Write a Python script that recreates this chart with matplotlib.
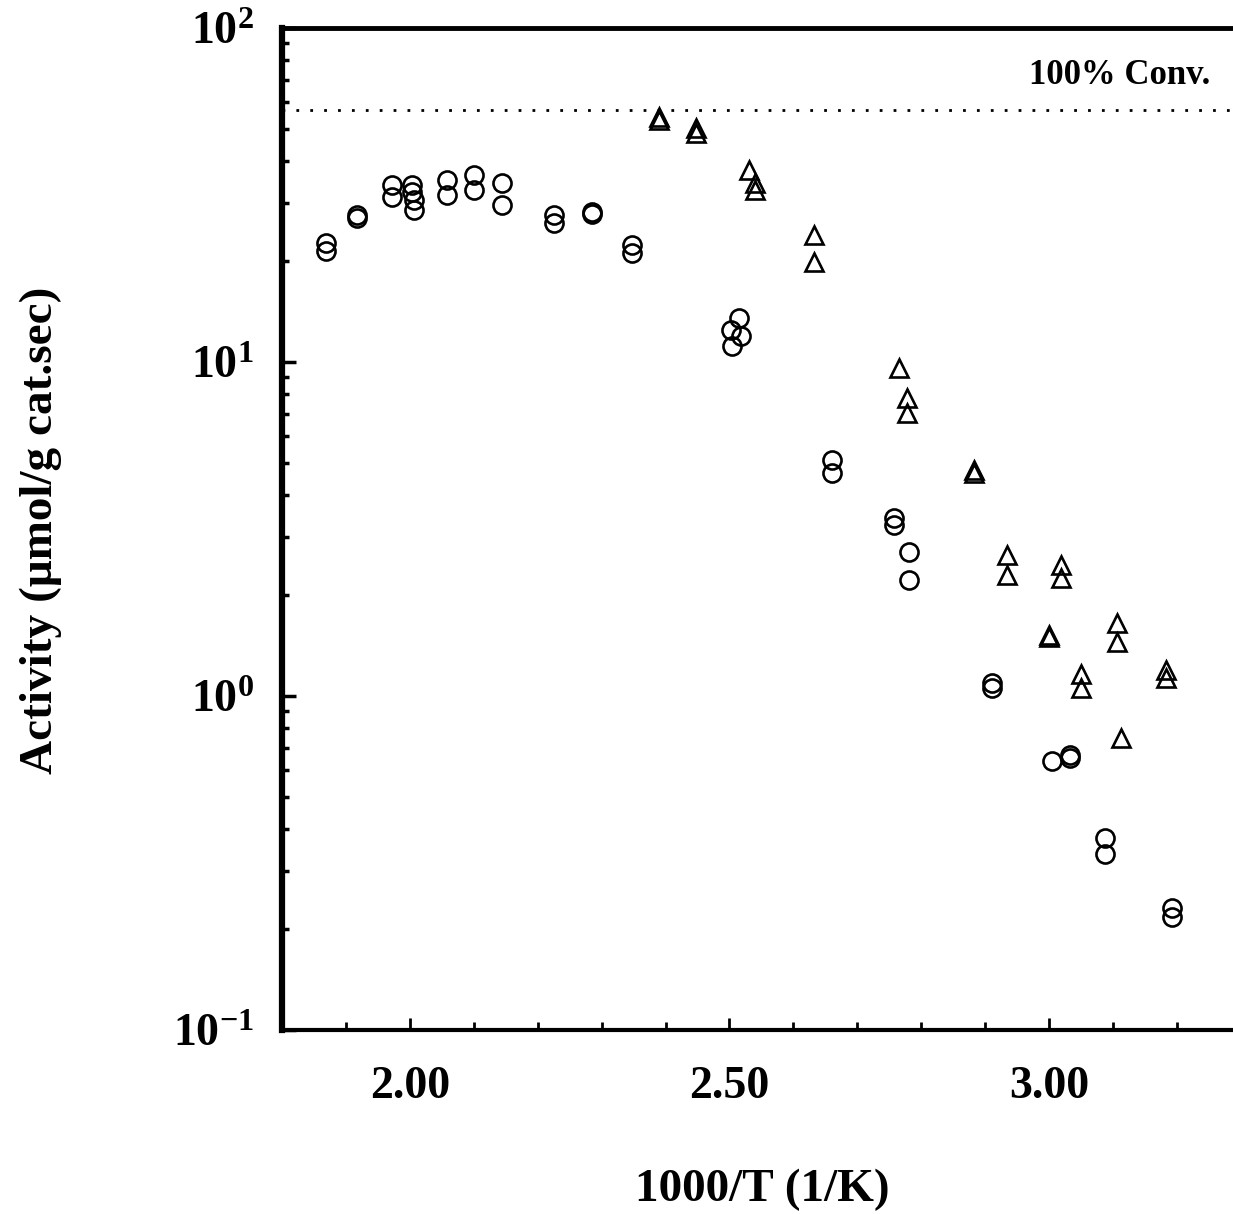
import matplotlib.pyplot as plt
import numpy as np

# circles
circ_x = [1.869, 1.869, 1.917, 1.917, 1.972, 1.972, 2.003, 2.003, 2.006, 2.006,
          2.058, 2.058, 2.100, 2.100, 2.144, 2.144, 2.225, 2.225, 2.285, 2.285,
          2.347, 2.347, 2.515, 2.502, 2.518, 2.504, 2.660, 2.660, 2.757, 2.757,
          2.781, 2.781, 2.911, 2.911, 3.005, 3.033, 3.033, 3.088, 3.088, 3.192, 3.192]
circ_y = [22.7, 21.5, 27.0, 27.5, 33.9, 31.2, 33.9, 32.3, 30.5, 28.5,
          35.1, 31.6, 36.3, 32.7, 34.4, 29.5, 27.5, 26.1, 28.1, 27.7,
          22.4, 21.2, 13.5, 12.5, 12.0, 11.2, 5.09, 4.65, 3.41, 3.25,
          2.70, 2.22, 1.09, 1.06, 0.638, 0.665, 0.650, 0.376, 0.336, 0.232, 0.218]

# triangles
tri_x = [2.390, 2.390, 2.448, 2.448, 2.531, 2.540, 2.540, 2.632, 2.632,
         2.765, 2.778, 2.778, 2.883, 2.883, 2.934, 2.934, 3.019, 3.019,
         3.000, 3.000, 3.106, 3.106, 3.050, 3.050, 3.183, 3.183, 3.113]
tri_y = [54.2, 53.0, 50.2, 48.5, 37.6, 34.4, 32.7, 24.0, 19.9,
         9.6, 7.8, 7.04, 4.75, 4.65, 2.64, 2.30, 2.47, 2.25,
         1.52, 1.50, 1.65, 1.45, 1.16, 1.06, 1.20, 1.13, 0.748]

conv_level = 57.0
xticks = [2.00, 2.50, 3.00]
xticklabels = ['2.00', '2.50', '3.00']
yticks = [0.1, 1, 10, 100]
yticklabels = [r'$\mathbf{10^{-1}}$', r'$\mathbf{10^{0}}$', r'$\mathbf{10^{1}}$', r'$\mathbf{10^{2}}$']

plt.rcParams['font.family'] = 'Liberation Serif'
plt.rcParams['mathtext.fontset'] = 'custom'
plt.rcParams['mathtext.rm'] = 'Liberation Serif'
plt.rcParams['mathtext.bf'] = 'Liberation Serif:bold'

fig = plt.figure(figsize=(12.33, 12.14), dpi=100)
ax = fig.add_axes([0.2287, 0.1516, 0.7725, 0.8253])

ax.plot(circ_x, circ_y, 'o', ms=13, mfc='none', mec='black', mew=1.9)
ax.plot(tri_x, tri_y, '^', ms=13, mfc='none', mec='black', mew=1.9)
ax.axhline(conv_level, color='black', ls=(0, (1, 4)), lw=2)
ax.text(3.252, 72, '100% Conv.', ha='right', va='center', fontsize=25, fontweight='bold')

ax.set_yscale('log')
ax.set_xlim(1.80, 3.29)
ax.set_ylim(0.1, 100)

ax.set_xticks(xticks)
ax.set_xticklabels(xticklabels, fontsize=33, fontweight='bold')
ax.set_xticks(np.arange(1.9, 3.25, 0.1), minor=True)
ax.set_yticks(yticks)
ax.set_yticklabels(yticklabels, fontsize=33)

ax.tick_params(axis='x', which='major', direction='in', length=9, width=2, pad=26)
ax.tick_params(axis='x', which='minor', direction='in', length=6, width=2)
ax.tick_params(axis='y', which='major', direction='in', length=10, width=2.5, pad=20)
ax.tick_params(axis='y', which='minor', direction='in', length=5, width=2.5, labelleft=False)

ax.spines['left'].set_linewidth(4.5)
ax.spines['top'].set_linewidth(3.5)
ax.spines['bottom'].set_linewidth(3)
ax.spines['right'].set_linewidth(1)

fig.text(0.618, 0.020, '1000/T (1/K)', ha='center', va='center', fontsize=34, fontweight='bold')
fig.text(0.033, 0.563, 'Activity (\u03bcmol/g cat.sec)', ha='center', va='center',
         rotation=90, fontsize=34, fontweight='bold')

fig.savefig('out.png', dpi=100)
